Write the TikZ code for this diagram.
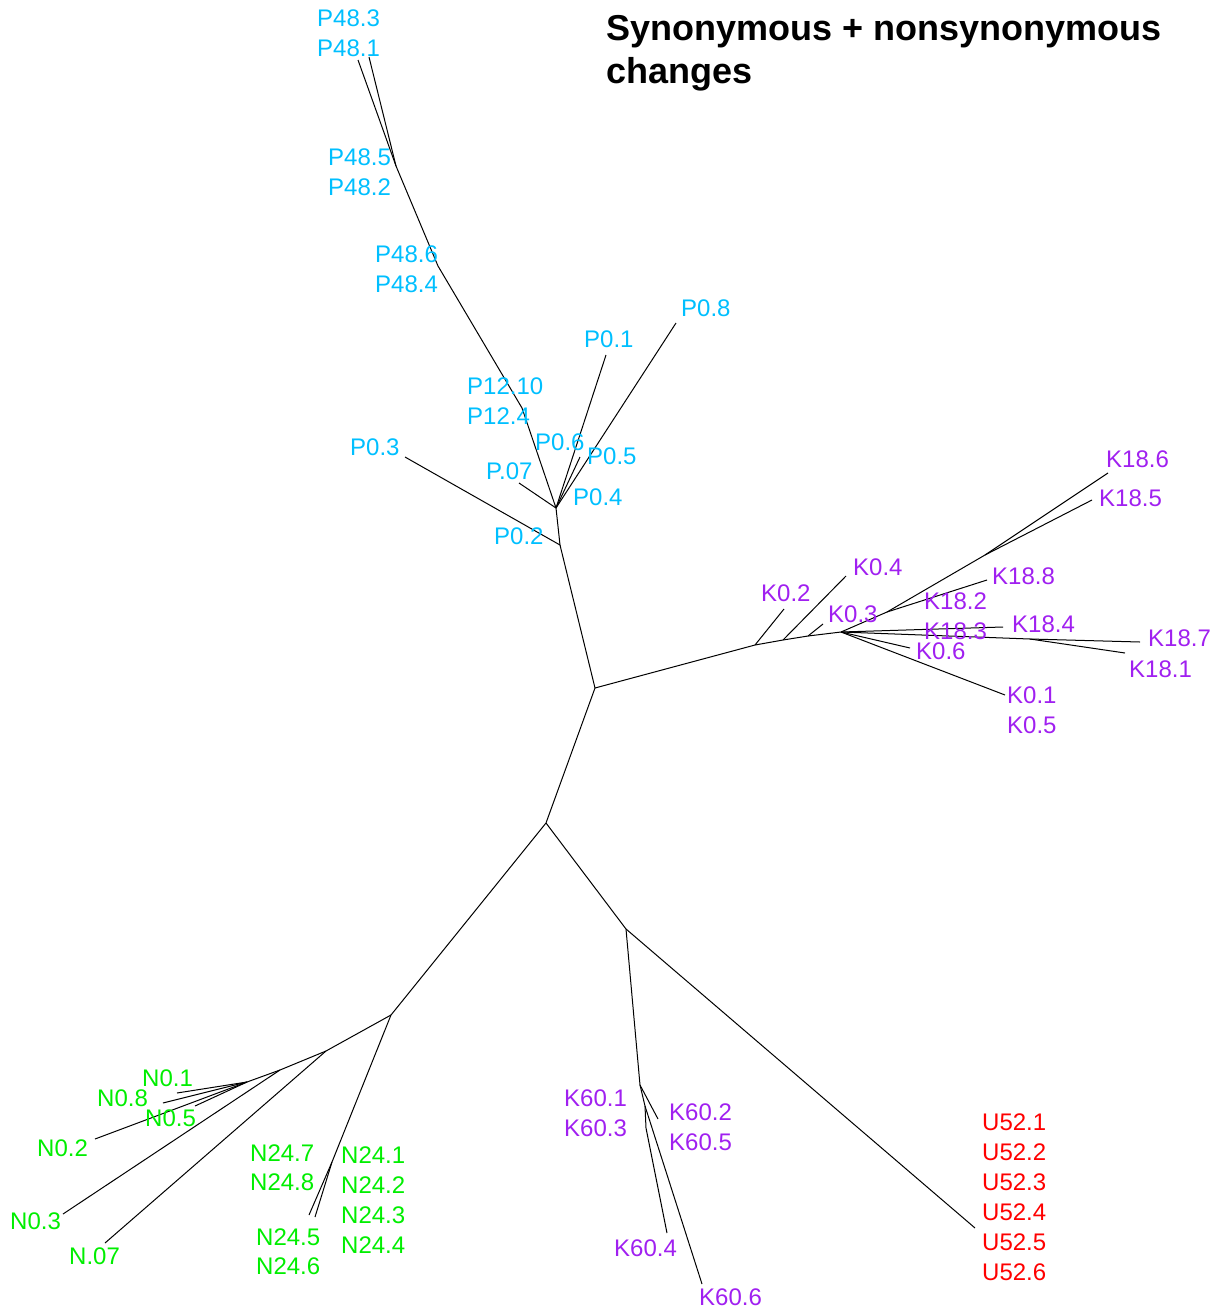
\documentclass[tikz,border=0pt]{standalone}
\usepackage{fontspec}
\setmainfont{Liberation Sans}
\definecolor{pcol}{RGB}{0,191,255}
\definecolor{ncol}{RGB}{0,238,0}
\definecolor{kcol}{RGB}{160,32,240}
\definecolor{ucol}{RGB}{255,0,0}
\tikzset{
  edge/.style={draw=black, line width=1pt},
  lab/.style={anchor=west, inner sep=0pt, font=\fontsize{24}{28}\selectfont},
  plab/.style={lab, text=pcol},
  nlab/.style={lab, text=ncol},
  klab/.style={lab, text=kcol},
  ulab/.style={lab, text=ucol},
  ttl/.style={anchor=base west, inner sep=0pt, font=\fontsize{36}{43}\selectfont\bfseries}
}
\begin{document}
\begin{tikzpicture}[x=1pt,y=-1pt]
\useasboundingbox (0,0) rectangle (1225,1312);
% title
\node[ttl] (t1) at (606,40) {Synonymous + nonsynonymous};
\node[ttl] (t2) at (606,83) {changes};

% internal nodes of the tree
\coordinate (A) at (595,688);
\coordinate (B) at (546,823);
\coordinate (C) at (626,929);
% P clade
\coordinate (Pn2) at (560,545);
\coordinate (Ph) at (556,508);
\coordinate (P12) at (522,408);
\coordinate (P48a) at (438,266);
\coordinate (P48b) at (396,166);
\coordinate (tP483) at (358,60);
\coordinate (tP481) at (369,57);
\coordinate (tP03) at (405,457);
\coordinate (tP07) at (519,483);
\coordinate (tP06) at (580,457);
\coordinate (tP01) at (606,355);
\coordinate (tP08) at (676,323);
% K0 / K18 clade
\coordinate (K02n) at (755,645);
\coordinate (K04n) at (783,640);
\coordinate (K03n) at (808,636);
\coordinate (Kh) at (841,632);
\coordinate (tK02) at (784,609);
\coordinate (tK04) at (846,576);
\coordinate (tK03) at (823,624);
\coordinate (K18a) at (887,612);
\coordinate (K18b) at (985,555);
\coordinate (K18c) at (1030,639);
\coordinate (tK186) at (1108,473);
\coordinate (tK185) at (1092,500);
\coordinate (tK188) at (987,580);
\coordinate (tK184) at (1003,627);
\coordinate (tK187) at (1140,642);
\coordinate (tK181) at (1125,653);
\coordinate (tK06) at (910,648);
\coordinate (tK01) at (1005,695);
% N clade
\coordinate (Nn) at (391,1015);
\coordinate (N1) at (326,1051);
\coordinate (N2) at (280,1070);
\coordinate (N3) at (247,1082);
\coordinate (tN07) at (105,1243);
\coordinate (tN03) at (63,1214);
\coordinate (tN02) at (95,1139);
\coordinate (tN01) at (177,1093);
\coordinate (tN08) at (163,1103);
\coordinate (tN05) at (195,1106);
\coordinate (N24) at (332,1162);
\coordinate (tN24a) at (309,1215);
\coordinate (tN24b) at (315,1217);
% K60 clade
\coordinate (K60a) at (640,1085);
\coordinate (K60b) at (645,1106);
\coordinate (K60c) at (646,1128);
\coordinate (tK602) at (658,1119);
\coordinate (tK604) at (667,1233);
\coordinate (tK606) at (702,1284);
% U52 tip
\coordinate (tU52) at (975,1228);

% backbone
\draw[edge] (Pn2) -- (A) -- (B) -- (Nn);
\draw[edge] (B) -- (C) -- (tU52);
\draw[edge] (C) -- (K60a);

% P clade
\draw[edge] (tP03) -- (Pn2) -- (Ph);
\draw[edge] (Ph) -- (P12) -- (P48a) -- (P48b) -- (tP483);
\draw[edge] (P48b) -- (tP481);
\draw[edge] (Ph) -- (tP07);
\draw[edge] (Ph) -- (tP06);
\draw[edge] (Ph) -- (tP01);
\draw[edge] (Ph) -- (tP08);

% K0 / K18 clade
\draw[edge] (A) -- (K02n) -- (K04n) -- (K03n) -- (Kh);
\draw[edge] (K02n) -- (tK02);
\draw[edge] (K04n) -- (tK04);
\draw[edge] (K03n) -- (tK03);
\draw[edge] (Kh) -- (K18a) -- (K18b) -- (tK186);
\draw[edge] (K18b) -- (tK185);
\draw[edge] (K18a) -- (tK188);
\draw[edge] (Kh) -- (tK184);
\draw[edge] (Kh) -- (K18c) -- (tK187);
\draw[edge] (K18c) -- (tK181);
\draw[edge] (Kh) -- (tK06);
\draw[edge] (Kh) -- (tK01);

% N clade
\draw[edge] (Nn) -- (N1) -- (N2) -- (N3);
\draw[edge] (N1) -- (tN07);
\draw[edge] (N2) -- (tN03);
\draw[edge] (N3) -- (tN02);
\draw[edge] (N3) -- (tN01);
\draw[edge] (N3) -- (tN08);
\draw[edge] (N3) -- (tN05);
\draw[edge] (Nn) -- (N24) -- (tN24a);
\draw[edge] (N24) -- (tN24b);

% K60 clade
\draw[edge] (K60a) -- (K60b) -- (K60c) -- (tK604);
\draw[edge] (K60a) -- (tK602);
\draw[edge] (K60b) -- (tK606);

% P labels
\node[plab] (lP483) at (317,18) {P48.3};
\node[plab] (lP481) at (317,48) {P48.1};
\node[plab] (lP485) at (328,157) {P48.5};
\node[plab] (lP482) at (328,187) {P48.2};
\node[plab] (lP486) at (375,254) {P48.6};
\node[plab] (lP484) at (375,284) {P48.4};
\node[plab] (lP08) at (681,308) {P0.8};
\node[plab] (lP01) at (584,339) {P0.1};
\node[plab] (lP1210) at (467,386) {P12.10};
\node[plab] (lP124) at (467,416) {P12.4};
\node[plab] (lP06) at (535,442) {P0.6};
\node[plab] (lP05) at (587,456) {P0.5};
\node[plab] (lP07) at (486,471) {P.07};
\node[plab] (lP04) at (573,497) {P0.4};
\node[plab] (lP03) at (350,447) {P0.3};
\node[plab] (lP02) at (494,536) {P0.2};

% K labels
\node[klab] (lK186) at (1106,459) {K18.6};
\node[klab] (lK185) at (1099,498) {K18.5};
\node[klab] (lK188) at (992,576) {K18.8};
\node[klab] (lK182) at (924,601) {K18.2};
\node[klab] (lK183) at (924,631) {K18.3};
\node[klab] (lK184) at (1012,624) {K18.4};
\node[klab] (lK187) at (1148,638) {K18.7};
\node[klab] (lK181) at (1129,669) {K18.1};
\node[klab] (lK04) at (853,567) {K0.4};
\node[klab] (lK02) at (761,593) {K0.2};
\node[klab] (lK03) at (828,614) {K0.3};
\node[klab] (lK06) at (916,651) {K0.6};
\node[klab] (lK01) at (1007,695) {K0.1};
\node[klab] (lK05) at (1007,725) {K0.5};

% N labels
\node[nlab] (lN01) at (142,1078) {N0.1};
\node[nlab] (lN08) at (97,1098) {N0.8};
\node[nlab] (lN05) at (145,1118) {N0.5};
\node[nlab] (lN02) at (37,1148) {N0.2};
\node[nlab] (lN03) at (10,1221) {N0.3};
\node[nlab] (lN07) at (69,1256) {N.07};
\node[nlab] (lN247) at (250,1153) {N24.7};
\node[nlab] (lN248) at (250,1182) {N24.8};
\node[nlab] (lN241) at (341,1155) {N24.1};
\node[nlab] (lN242) at (341,1185) {N24.2};
\node[nlab] (lN243) at (341,1215) {N24.3};
\node[nlab] (lN244) at (341,1245) {N24.4};
\node[nlab] (lN245) at (256,1237) {N24.5};
\node[nlab] (lN246) at (256,1266) {N24.6};

% K60 labels
\node[klab] (lK601) at (564,1098) {K60.1};
\node[klab] (lK603) at (564,1128) {K60.3};
\node[klab] (lK602) at (669,1112) {K60.2};
\node[klab] (lK605) at (669,1142) {K60.5};
\node[klab] (lK604) at (614,1248) {K60.4};
\node[klab] (lK606) at (699,1297) {K60.6};

% U labels
\node[ulab] (lU521) at (982,1122) {U52.1};
\node[ulab] (lU522) at (982,1152) {U52.2};
\node[ulab] (lU523) at (982,1182) {U52.3};
\node[ulab] (lU524) at (982,1212) {U52.4};
\node[ulab] (lU525) at (982,1242) {U52.5};
\node[ulab] (lU526) at (982,1272) {U52.6};
\end{tikzpicture}
\end{document}
